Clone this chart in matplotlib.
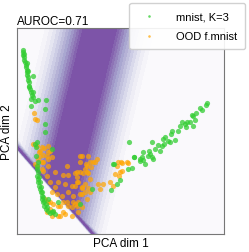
import numpy as np
import matplotlib
matplotlib.use("Agg")
import matplotlib.pyplot as plt
from matplotlib.colors import ListedColormap

plt.rcParams['font.family'] = ['Liberation Sans', 'DejaVu Sans']

# projected samples (PCA dim 1, PCA dim 2)
mnist_x = [5.7, 6.3, 6.3, 7, 7.3, 8, 8.7, 9, 9.7, 9.7, 10.3, 11.3, 11, 12, 12.3, 13, 13.7, 14.7,
           15.7, 16.3, 21.3, 28.7, 13.7, 14.3, 28, 28, 28, 7, 10, 11, 12, 16, 18,
           19.7, 18, 18.7, 35.3, 18.7, 21.3, 19.7, 20, 21.3, 19.7, 20.7, 21.3, 22, 23, 23.7,
           24.7, 25.3, 26.3, 27.3, 28.7, 31.3, 34.7, 38, 22, 23, 24, 25, 26, 27, 29, 30, 33,
           36, 41, 31,
           63, 74.7, 93.7, 99.7, 103, 111.3, 114.7, 96.3, 117.3, 123, 112.3, 97,
           190.3, 189, 183, 184.7, 176.3, 174.7, 178, 173, 176.3, 170.3, 168, 164.7, 163,
           161.3, 154.7, 153.7, 158, 151.3, 153, 146.3, 147, 144.7, 143, 134.7, 133, 134.7,
           136.3, 131.3, 126.3, 124.7, 123, 125.7, 128, 117, 179, 169, 148, 138, 132, 141]
mnist_y = [184.3, 181.7, 179, 176.7, 174.3, 171.7, 169, 166.7, 164.3, 161.7, 159, 156.7, 154.3,
           151.7, 148.3, 145, 141.7, 139, 157.7, 136.7, 134.3, 134.3, 135, 128.3, 125, 110,
           101.7, 180, 171, 163, 147, 142, 133,
           91.7, 90, 86.7, 85, 78.3, 71.7, 68.3, 65, 61.7, 58.3, 55, 51.7, 48.3, 45, 41.7,
           38.3, 35, 31.7, 28.3, 25, 23.3, 21.7, 20, 57, 52, 47, 42, 37, 33, 30, 27, 21,
           23, 32, 35,
           30, 45, 44.3, 50, 54.3, 65, 65.7, 70, 76.7, 75, 92.3, 70,
           131, 129, 125.7, 124.3, 118.3, 119, 114.3, 111.7, 107.7, 112.3, 110, 111.7, 107.7,
           103.3, 103.3, 100, 94.3, 93.3, 92.3, 95, 90, 88.3, 83.3, 91.7, 80, 76.7,
           75, 78.3, 81.7, 76.7, 73.3, 74.3, 70, 76.7, 121, 107, 97, 85, 83, 89]

ood_x = [17, 18, 19.7, 16.3, 19.7, 24.7, 31.3, 33, 29.7, 23, 21.3, 26.3, 31.3, 19.7, 24.7,
         23, 27.3, 31.3, 22, 34.7, 26.3, 18, 24.7, 31.3, 26.3, 29.7, 38, 46.3, 51.3, 58, 63,
         33, 41.3, 48, 54.7, 61.3, 34.7, 39.7, 44.7, 51.3, 56.3, 63, 31.3, 36.3, 41.3, 46.3,
         51.3, 58, 29.7, 34.7, 43, 48, 54.7, 61.3, 64.7, 28, 64.7, 38, 36.3, 46.3, 49.7, 43,
         33, 64.7, 73, 78, 69, 73.7, 68, 66.3, 71.3, 60.3, 73, 68, 59.7, 64.7, 71.3, 68, 69.7,
         58, 86.3, 93, 81.3, 83, 98, 103, 104.7, 101.3, 111.3, 56.3, 59.7, 54.7,
         63, 63, 49.7, 59.7, 69.7, 76.3, 79.7, 71.3, 69.7, 99.7, 109.7, 96.3, 73, 64.7, 61.3,
         41.3, 33, 103.7, 104.7, 102.3]
ood_y = [121, 115, 114.3, 90, 88.3, 86.7, 88.3, 83.3, 78.3, 78.3, 75, 71.7, 68.3, 68.3, 65,
         83.3, 85.7, 81.7, 81.7, 76.7, 79, 70, 71.7, 75, 63.3, 58.3, 61.7, 59, 59, 61, 62.3,
         51.7, 51.7, 50, 48.3, 51.7, 41.7, 40, 38.3, 41.7, 38.3, 40, 31.7, 30, 28.3, 31.7,
         28.3, 30, 21.7, 18.3, 18.3, 20, 18.3, 21.7, 26.7, 35, 46.7, 46.7, 21.7, 21.7, 31.7, 28.3,
         25, 77.7, 72.3, 71.7, 70, 66.7, 65, 61, 61, 56.7, 55, 50, 51.7, 45.7, 45.7, 41.7, 35,
         48.3, 50, 51.7, 50, 45, 60, 62.3, 71, 72.3, 71, 31.7, 28.3, 26.7,
         78.3, 71.7, 68.3, 61.7, 68.3, 71.7, 75, 78.3, 61.7, 68.3, 71.7, 48.3, 41.7, 40, 31.7,
         18.3, 31.7, 72.3, 63.3, 58.3]

auroc = 0.71
x_lim = (0, 207)
y_lim = (0, 206)

# background score field: wide ridge plus a thin ridge along the lower-left boundary
gx, gy = np.meshgrid(np.linspace(*x_lim, 400), np.linspace(*y_lim, 400))
d1 = ((gx - 83) - 0.24 * (gy - 206)) / np.sqrt(1 + 0.24**2)
d2 = (gx * 87 + (gy - 87) * 76) / np.hypot(87, 76)
band = np.clip(1 - np.maximum(np.abs(d1) - 14, 0) / 46, 0, 1) ** 1.4
band = band * (d2 > 0)
thin = np.where(d2 > 0, np.clip(1 - d2 / 8, 0, 1) ** 2, np.exp(-0.5 * (d2 / 1.0) ** 2))
field = np.maximum(band, thin)

# purples faded towards white (looks like alpha 0.7 on white)
cols = plt.get_cmap("Purples")(np.linspace(0, 1, 256))
cols[:, :3] = cols[:, :3] * 0.7 + 0.3
soft_purples = ListedColormap(cols)

fig = plt.figure(figsize=(2.49, 2.53), dpi=100)
ax = fig.add_axes([17 / 249, 18 / 253, 207 / 249, 206 / 253])
ax.contourf(gx, gy, field, levels=np.linspace(0, 1.0001, 15), cmap=soft_purples, vmin=0, vmax=1)
ax.scatter(ood_x, ood_y, s=14, color="orange", alpha=0.7, linewidths=0, label="OOD f.mnist", zorder=3)
ax.scatter(mnist_x, mnist_y, s=14, color="limegreen", alpha=0.75, linewidths=0, label="mnist, K=3", zorder=4)
ax.set_xlim(*x_lim)
ax.set_ylim(*y_lim)
ax.set_xticks([])
ax.set_yticks([])
for sp in ax.spines.values():
    sp.set_color("#777777")
ax.set_xlabel("PCA dim 1", fontsize=8.5, labelpad=2)
ax.set_ylabel("PCA dim 2", fontsize=8.5, labelpad=3)
ax.set_title("AUROC=%.2f" % auroc, loc="left", fontsize=8.5, pad=3)
h, l = ax.get_legend_handles_labels()
ax.legend(h[::-1], l[::-1], loc="upper right", bbox_to_anchor=(245 / 249, 1 - 4 / 253),
          bbox_transform=fig.transFigure, fontsize=8, markerscale=0.5, framealpha=0.9,
          borderaxespad=0, labelspacing=0.85, borderpad=0.75, handletextpad=1.4)
fig.savefig("out.png", dpi=100)
